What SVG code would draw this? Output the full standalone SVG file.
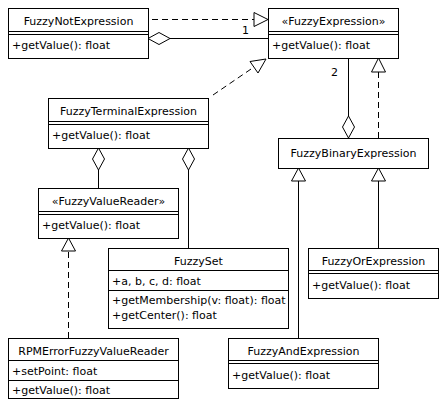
<svg xmlns="http://www.w3.org/2000/svg" width="446" height="408" viewBox="0 0 446 408">
<style>
  .box{fill:#fff;stroke:#000;stroke-width:1}
  .sep{stroke:#000;stroke-width:1;fill:none}
  text{font-family:"DejaVu Sans","Liberation Sans",sans-serif;font-size:11px;fill:#000}
  .c{text-anchor:middle}
  .ln{stroke:#000;stroke-width:1;fill:none}
  .dash{stroke:#000;stroke-width:1;fill:none;stroke-dasharray:6,4}
  .tri{fill:#fff;stroke:#000;stroke-width:1}
  .dia{fill:#fff;stroke:#000;stroke-width:1}
</style>
<rect x="0" y="0" width="446" height="408" fill="#fff"/>
<g id="connectors">
  <!-- FuzzyNot realizes FuzzyExpression -->
  <line class="dash" x1="152" y1="19.5" x2="254" y2="19.5"/>
  <polygon class="tri" points="268,19.5 254,12.5 254,26.5"/>
  <!-- FuzzyNot aggregates FuzzyExpression -->
  <line class="ln" x1="170" y1="38.5" x2="268" y2="38.5"/>
  <polygon class="dia" points="148,38.5 159,32.5 170,38.5 159,44.5"/>
  <text x="242" y="34">1</text>
  <!-- FuzzyTerminal realizes FuzzyExpression -->
  <line class="dash" x1="213" y1="95" x2="254" y2="67"/>
  <polygon class="tri" points="266,59 250,61.5 258,73"/>
  <!-- FuzzyExpression aggregated by FuzzyBinary -->
  <line class="ln" x1="348.5" y1="58" x2="348.5" y2="116"/>
  <polygon class="dia" points="348.5,116 354.5,127 348.5,138 342.5,127"/>
  <text x="331" y="76">2</text>
  <!-- FuzzyBinary realizes FuzzyExpression -->
  <line class="dash" x1="378.5" y1="138" x2="378.5" y2="72"/>
  <polygon class="tri" points="378.5,58 371.5,72 385.5,72"/>
  <!-- FuzzyAnd generalizes FuzzyBinary -->
  <line class="ln" x1="298.5" y1="338" x2="298.5" y2="181"/>
  <polygon class="tri" points="298.5,168 291.5,181 305.5,181"/>
  <!-- FuzzyOr generalizes FuzzyBinary -->
  <line class="ln" x1="378.5" y1="248" x2="378.5" y2="181"/>
  <polygon class="tri" points="378.5,168 371.5,181 385.5,181"/>
  <!-- FuzzyTerminal aggregates FuzzyValueReader -->
  <line class="ln" x1="98.5" y1="170" x2="98.5" y2="188"/>
  <polygon class="dia" points="98.5,148 104.5,159 98.5,170 92.5,159"/>
  <!-- FuzzyTerminal aggregates FuzzySet -->
  <line class="ln" x1="188.5" y1="170" x2="188.5" y2="248"/>
  <polygon class="dia" points="188.5,148 194.5,159 188.5,170 182.5,159"/>
  <!-- RPMError realizes FuzzyValueReader -->
  <line class="dash" x1="68.5" y1="338" x2="68.5" y2="251"/>
  <polygon class="tri" points="68.5,238 61.5,251 75.5,251"/>
</g>
<g id="FuzzyNotExpression">
  <rect class="box" x="8.5" y="8.5" width="140" height="50"/>
  <line class="sep" x1="8.5" y1="31.5" x2="148.5" y2="31.5"/>
  <line class="sep" x1="8.5" y1="34.5" x2="148.5" y2="34.5"/>
  <text class="c" x="78.5" y="25">FuzzyNotExpression</text>
  <text x="12" y="49">+getValue(): float</text>
</g>
<g id="FuzzyExpression">
  <rect class="box" x="268.5" y="8.5" width="130" height="50"/>
  <line class="sep" x1="268.5" y1="31.5" x2="398.5" y2="31.5"/>
  <line class="sep" x1="268.5" y1="34.5" x2="398.5" y2="34.5"/>
  <text class="c" x="333.5" y="25">«FuzzyExpression»</text>
  <text x="272" y="49">+getValue(): float</text>
</g>
<g id="FuzzyTerminalExpression">
  <rect class="box" x="48.5" y="98.5" width="160" height="50"/>
  <line class="sep" x1="48.5" y1="121.5" x2="208.5" y2="121.5"/>
  <line class="sep" x1="48.5" y1="124.5" x2="208.5" y2="124.5"/>
  <text class="c" x="128.5" y="115">FuzzyTerminalExpression</text>
  <text x="52" y="139">+getValue(): float</text>
</g>
<g id="FuzzyBinaryExpression">
  <rect class="box" x="278.5" y="138.5" width="150" height="30"/>
  <text class="c" x="353.5" y="157">FuzzyBinaryExpression</text>
</g>
<g id="FuzzyValueReader">
  <rect class="box" x="38.5" y="188.5" width="140" height="50"/>
  <line class="sep" x1="38.5" y1="211.5" x2="178.5" y2="211.5"/>
  <line class="sep" x1="38.5" y1="214.5" x2="178.5" y2="214.5"/>
  <text class="c" x="108.5" y="205">«FuzzyValueReader»</text>
  <text x="42" y="229">+getValue(): float</text>
</g>
<g id="FuzzySet">
  <rect class="box" x="108.5" y="248.5" width="180" height="80"/>
  <line class="sep" x1="108.5" y1="270.5" x2="288.5" y2="270.5"/>
  <line class="sep" x1="108.5" y1="290.5" x2="288.5" y2="290.5"/>
  <text class="c" x="198.5" y="265">FuzzySet</text>
  <text x="112" y="285">+a, b, c, d: float</text>
  <text x="112" y="304">+getMembership(v: float): float</text>
  <text x="112" y="319">+getCenter(): float</text>
</g>
<g id="FuzzyOrExpression">
  <rect class="box" x="308.5" y="248.5" width="130" height="50"/>
  <line class="sep" x1="308.5" y1="270.5" x2="438.5" y2="270.5"/>
  <line class="sep" x1="308.5" y1="273.5" x2="438.5" y2="273.5"/>
  <text class="c" x="373.5" y="265">FuzzyOrExpression</text>
  <text x="312" y="289">+getValue(): float</text>
</g>
<g id="RPMErrorFuzzyValueReader">
  <rect class="box" x="8.5" y="338.5" width="170" height="60"/>
  <line class="sep" x1="8.5" y1="360.5" x2="178.5" y2="360.5"/>
  <line class="sep" x1="8.5" y1="380.5" x2="178.5" y2="380.5"/>
  <text class="c" x="93.5" y="355">RPMErrorFuzzyValueReader</text>
  <text x="12" y="375">+setPoint: float</text>
  <text x="12" y="394">+getValue(): float</text>
</g>
<g id="FuzzyAndExpression">
  <rect class="box" x="228.5" y="338.5" width="150" height="50"/>
  <line class="sep" x1="228.5" y1="360.5" x2="378.5" y2="360.5"/>
  <line class="sep" x1="228.5" y1="363.5" x2="378.5" y2="363.5"/>
  <text class="c" x="303.5" y="355">FuzzyAndExpression</text>
  <text x="232" y="379">+getValue(): float</text>
</g>
</svg>
